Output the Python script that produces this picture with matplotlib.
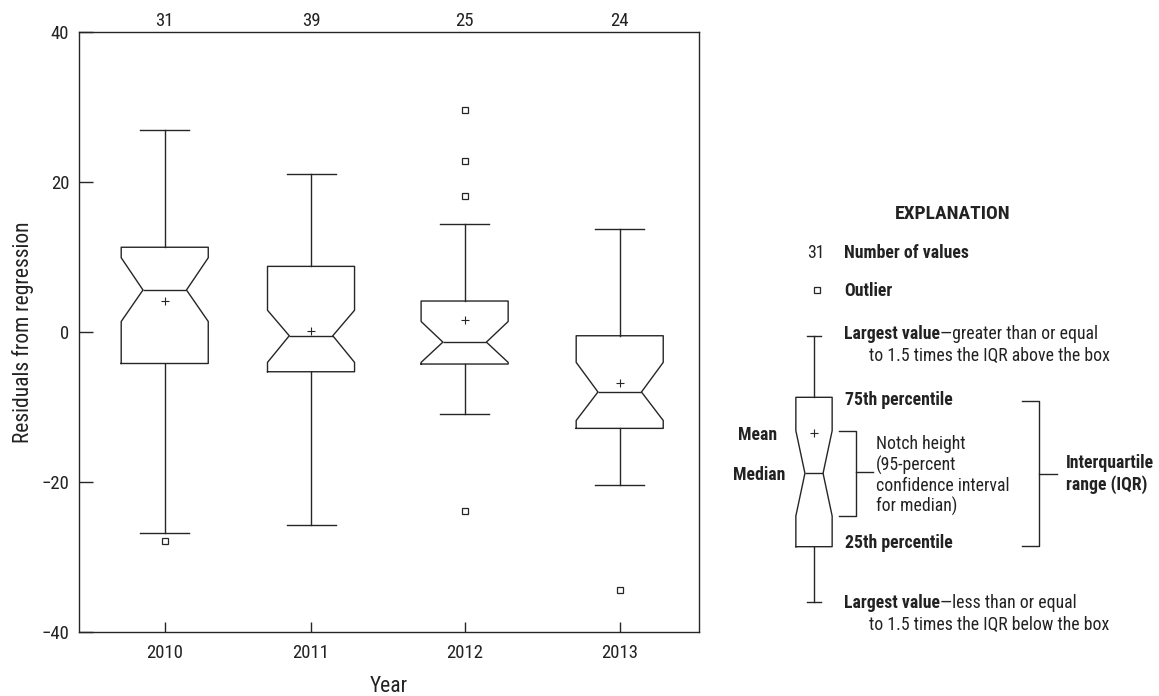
import matplotlib
matplotlib.use("Agg")
import matplotlib.pyplot as plt
from matplotlib import font_manager
from matplotlib.transforms import blended_transform_factory

# --- data -------------------------------------------------------------
years = ["2010", "2011", "2012", "2013"]
counts = [31, 39, 25, 24]
medians = [5.6, -0.5, -1.35, -8.0]
q1 = [-4.2, -5.3, -4.27, -12.85]
q3 = [11.3, 8.75, 4.13, -0.5]
whisker_low = [-26.8, -25.7, -10.9, -20.4]
whisker_high = [27.0, 21.1, 14.4, 13.7]
notch_low = [1.4, -4.05, -4.05, -11.8]
notch_high = [9.9, 2.9, 1.4, -4.05]
means = [4.2, 0.1, 1.6, -6.8]
outliers = [[-27.8], [], [29.6, 22.8, 18.2, -23.9], [-34.4]]

# --- fonts: prefer a narrow sans serif --------------------------------
entries = font_manager.fontManager.ttflist
names = {f.name for f in entries}
stretch = "normal"
scale = 1.0
for cand in ["Liberation Sans Narrow", "Roboto Condensed", "Open Sans Condensed",
             "DejaVu Sans Condensed", "Noto Sans Condensed"]:
    if cand in names:
        family = cand
        break
else:
    condensed_dejavu = [f for f in entries if f.name == "DejaVu Sans"
                        and str(f.stretch) in ("condensed", "semi-condensed")]
    if condensed_dejavu:
        family, stretch = "DejaVu Sans", "condensed"
    elif "Roboto" in names:
        family, scale = "Roboto", 0.92
    else:
        family, scale = "Liberation Sans", 0.9
plt.rcParams["font.family"] = [family, "DejaVu Sans"]
plt.rcParams["font.stretch"] = stretch

INK = "#262626"
TXT = "#222222"
LW = 1.0
FS_AX = 13.5 * scale
FS_LABEL = 15.5 * scale
FS = 12.8 * scale
FS_HEAD = 14.0 * scale

fig = plt.figure(figsize=(11.59, 6.96), dpi=100)
ax = fig.add_axes([79 / 1159, 1 - 632 / 696, 620 / 1159, 600 / 696])

positions = [0.0, 1.0, 2.05, 3.11]
stats = []
for i, yr in enumerate(years):
    stats.append(dict(
        label=yr, med=medians[i], q1=q1[i], q3=q3[i],
        whislo=whisker_low[i], whishi=whisker_high[i],
        cilo=notch_low[i], cihi=notch_high[i],
        mean=means[i], fliers=outliers[i],
    ))

line_style = dict(color=INK, linewidth=LW)
mean_style = dict(marker="+", markersize=6, markeredgecolor=INK,
                  markeredgewidth=0.8, linestyle="none")
flier_style = dict(marker="s", markersize=5, markerfacecolor="none",
                   markeredgecolor=INK, markeredgewidth=0.9, linestyle="none")
ax.bxp(
    stats, positions=positions, widths=0.595, capwidths=0.335,
    shownotches=True, showmeans=True, patch_artist=False,
    boxprops=line_style, whiskerprops=line_style, capprops=line_style,
    medianprops=line_style, meanprops=mean_style, flierprops=flier_style,
)

ax.set_xlim(-0.586, 3.652)
ax.set_ylim(-40, 40)
ax.set_yticks([-40, -20, 0, 20, 40])
ax.set_xticks(positions)
ax.set_xticklabels(years)
ax.tick_params(axis="y", direction="in", length=10, width=LW, color=INK,
               labelsize=FS_AX, pad=7, labelcolor=TXT)
ax.tick_params(axis="x", direction="in", length=7, width=LW, color=INK,
               labelsize=FS_AX, pad=9, labelcolor=TXT)
for s in ax.spines.values():
    s.set_color(INK)
    s.set_linewidth(LW)
ax.set_ylabel("Residuals from regression", fontsize=FS_LABEL, color=TXT, labelpad=5)
ax.set_xlabel("Year", fontsize=FS_LABEL, color=TXT, labelpad=10)

# number of values above each box
trans = blended_transform_factory(ax.transData, ax.transAxes)
for pos, n in zip(positions, counts):
    ax.text(pos, 1.003, str(n), transform=trans, ha="center", va="bottom",
            fontsize=FS_AX, color=TXT)

# --- explanation panel (pixel coordinates) ---------------------------
ex = fig.add_axes([0, 0, 1, 1], facecolor="none")
ex.set_xlim(0, 1159)
ex.set_ylim(696, 0)
ex.axis("off")

example = [dict(med=473.3, q1=546.7, q3=397.3, whislo=602.3, whishi=335.7,
                cilo=516.0, cihi=430.7, mean=433.3, fliers=[])]
ex.bxp(example, positions=[814.0], widths=36.3, capwidths=13.7,
       shownotches=True, showmeans=True,
       boxprops=line_style, whiskerprops=line_style, capprops=line_style,
       medianprops=line_style, meanprops=mean_style)

ex.text(953, 214, "EXPLANATION", ha="center", va="center", fontsize=FS_HEAD,
        fontweight="bold", color=TXT)
ex.text(816, 253, "31", ha="center", va="center", fontsize=FS, color=TXT)
ex.text(844, 253, "Number of values", ha="left", va="center", fontsize=FS,
        fontweight="bold", color=TXT)
ex.plot([817], [290], **flier_style)
ex.text(844, 291, "Outlier", ha="left", va="center", fontsize=FS,
        fontweight="bold", color=TXT)


def two_part(x, y, bold, regular, second_line):
    t = ex.text(x, y, bold, ha="left", va="center", fontsize=FS,
                fontweight="bold", color=TXT)
    ex.annotate(regular, xy=(1, 0), xycoords=t, ha="left", va="bottom",
                fontsize=FS, color=TXT)
    ex.text(x + 25, y + 21.5, second_line, ha="left", va="center",
            fontsize=FS, color=TXT)


two_part(844, 334, "Largest value", "\u2014greater than or equal",
         "to 1.5 times the IQR above the box")
two_part(844, 603, "Largest value", "\u2014less than or equal",
         "to 1.5 times the IQR below the box")

ex.text(845, 400, "75th percentile", ha="left", va="center", fontsize=FS,
        fontweight="bold", color=TXT)
ex.text(845, 543, "25th percentile", ha="left", va="center", fontsize=FS,
        fontweight="bold", color=TXT)
ex.text(758, 435, "Mean", ha="center", va="center", fontsize=FS,
        fontweight="bold", color=TXT)
ex.text(759, 475, "Median", ha="center", va="center", fontsize=FS,
        fontweight="bold", color=TXT)

# notch bracket
ex.plot([839, 855.7, 855.7, 839], [430.7, 430.7, 515.7, 515.7], color=INK, lw=LW)
ex.plot([855.7, 873.3], [472.3, 472.3], color=INK, lw=LW)
for k, line in enumerate(["Notch height", "(95-percent", "confidence interval",
                          "for median)"]):
    ex.text(876, 444.3 + k * 20.8, line, ha="left", va="center", fontsize=FS,
            color=TXT)

# IQR bracket
ex.plot([1021.7, 1039.3, 1039.3, 1021.7], [400.7, 400.7, 545.7, 545.7],
        color=INK, lw=LW)
ex.plot([1039.3, 1056.7], [474, 474], color=INK, lw=LW)
ex.text(1066, 463, "Interquartile", ha="left", va="center", fontsize=FS,
        fontweight="bold", color=TXT)
ex.text(1066, 485, "range (IQR)", ha="left", va="center", fontsize=FS,
        fontweight="bold", color=TXT)

fig.savefig("out.png", dpi=100)
